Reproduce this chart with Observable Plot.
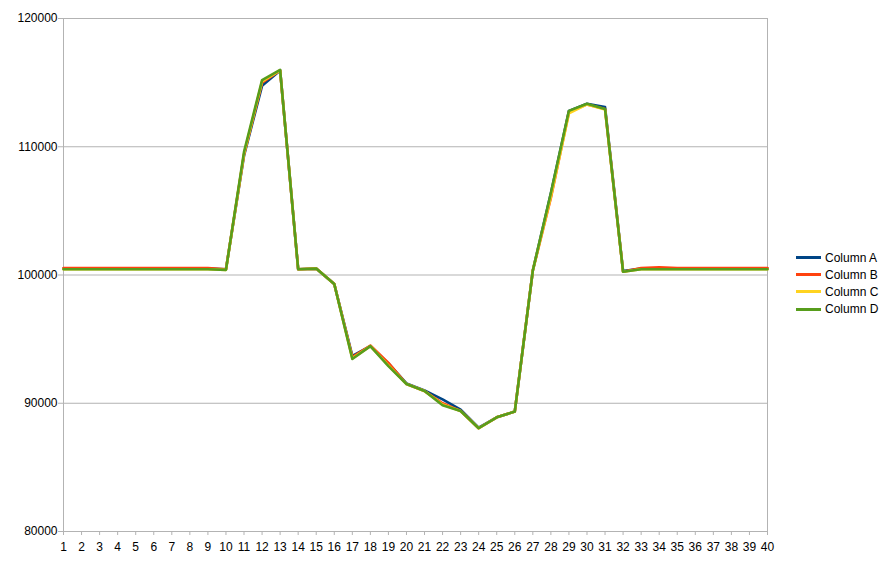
<!DOCTYPE html>
<html>
<head>
<meta charset="utf-8">
<script src="https://cdn.jsdelivr.net/npm/d3@7"></script>
<script src="https://cdn.jsdelivr.net/npm/@observablehq/plot@0.6"></script>
<style>
  html, body { margin: 0; padding: 0; background: #fff; }
  #wrap { position: relative; width: 886px; height: 565px; font-family: "Liberation Sans", Arial, sans-serif; }
  #legend { position: absolute; left: 796px; top: 249px; font-size: 12px; color: #000; }
  .item { display: flex; align-items: center; height: 17.2px; }
  .sw { width: 25px; height: 3px; margin-right: 4px; }
</style>
</head>
<body>
<div id="wrap"><div id="legend"></div></div>
<script>
const xs = d3.range(1, 41);
const seriesNames = ["Column A", "Column B", "Column C", "Column D"];
const seriesColors = ["#004586", "#ff420e", "#ffd320", "#579d1c"];
const yTicks = [80000, 90000, 100000, 110000, 120000];

const colA = [100500,100500,100500,100500,100500,100500,100500,100500,100500,100450,
              109300,114750,115950,100450,100500,99300,93700,94450,93100,91550,
              91000,90300,89500,88100,88900,89350,100350,106400,112800,113350,
              113100,100300,100500,100500,100500,100500,100500,100500,100500,100500];
const colB = [100550,100550,100550,100550,100550,100550,100550,100550,100550,100450,
              109400,115000,115950,100450,100500,99300,93600,94500,93150,91500,
              90950,90000,89400,88050,88900,89350,100350,106000,112700,113300,
              112950,100250,100550,100600,100550,100550,100550,100550,100550,100550];
const colC = [100450,100450,100450,100450,100450,100450,100450,100450,100450,100400,
              109450,115100,115950,100450,100500,99300,93500,94450,92950,91500,
              90950,89900,89400,88050,88900,89350,100350,106100,112600,113300,
              112900,100250,100450,100450,100450,100450,100450,100450,100450,100450];
const colD = [100450,100450,100450,100450,100450,100450,100450,100450,100450,100400,
              109600,115200,116000,100450,100500,99300,93450,94450,92900,91500,
              90950,89850,89400,88050,88900,89350,100350,106400,112800,113350,
              112950,100250,100450,100450,100450,100450,100450,100450,100450,100450];

const cols = [colA, colB, colC, colD];
const data = [];
cols.forEach((arr, i) => arr.forEach((v, j) => data.push({series: seriesNames[i], x: xs[j], v})));

const chart = Plot.plot({
  width: 886,
  height: 565,
  marginLeft: 63,
  marginRight: 119,
  marginTop: 18,
  marginBottom: 34,
  style: {fontFamily: "'Liberation Sans', Arial, sans-serif", fontSize: "12px", color: "#000", background: "#fff"},
  x: {domain: [1, 40], label: null},
  y: {domain: [80000, 120000], label: null},
  color: {domain: seriesNames, range: seriesColors},
  marks: [
    Plot.gridY(yTicks, {stroke: "#b3b3b3", strokeOpacity: 1}),
    Plot.ruleX([1, 40], {stroke: "#b3b3b3"}),
    Plot.ruleY([80000], {stroke: "#b3b3b3"}),
    Plot.axisX(xs, {tickSize: 4, tickPadding: 7, stroke: "#b3b3b3", fill: "#000", tickFormat: d => String(d), label: null}),
    Plot.axisY(yTicks, {tickSize: 5, tickPadding: 1, stroke: "#b3b3b3", fill: "#000", tickFormat: d => String(d), label: null}),
    Plot.line(data, {x: "x", y: "v", z: "series", stroke: "series", strokeWidth: 2.6, strokeLinejoin: "round"})
  ]
});
const wrap = document.getElementById("wrap");
wrap.insertBefore(chart, wrap.firstChild);

const legend = document.getElementById("legend");
seriesNames.forEach((n, i) => {
  const it = document.createElement("div");
  it.className = "item";
  const sw = document.createElement("div");
  sw.className = "sw";
  sw.style.background = seriesColors[i];
  const t = document.createElement("span");
  t.textContent = n;
  it.appendChild(sw);
  it.appendChild(t);
  legend.appendChild(it);
});
</script>
</body>
</html>
